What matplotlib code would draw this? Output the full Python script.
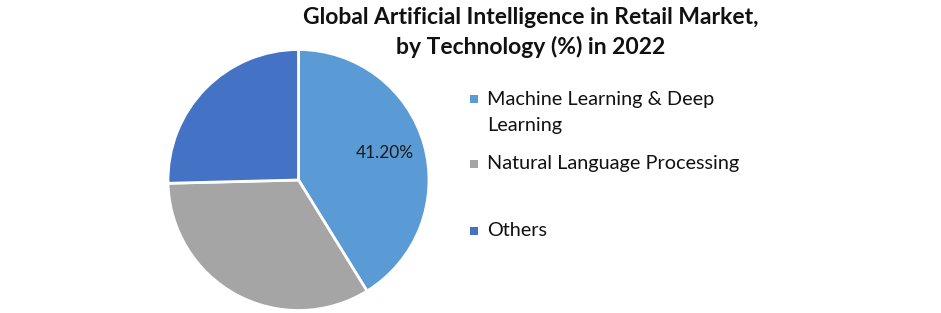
import matplotlib
matplotlib.use("Agg")
import matplotlib.pyplot as plt

categories = ["Machine Learning & Deep\nLearning", "Natural Language Processing", "Others"]
values = [41.2, 33.4, 25.4]
colors = ["#5B9BD5", "#A5A5A5", "#4472C4"]
title_lines = ["Global Artificial Intelligence in Retail Market,", "by Technology (%) in 2022"]

plt.rcParams['font.family'] = ['Lato', 'DejaVu Sans']

W, H = 941, 313
fig = plt.figure(figsize=(W / 100, H / 100), dpi=100)
fig.patch.set_facecolor("white")

cx, cy, r = 298.5, 180, 130.5
ax = fig.add_axes([(cx - r) / W, (H - cy - r) / H, 2 * r / W, 2 * r / H])
wedges, texts = ax.pie(values, colors=colors, startangle=90, counterclock=False,
                       wedgeprops=dict(edgecolor="white", linewidth=2), radius=1)
ax.set_xlim(-1, 1)
ax.set_ylim(-1, 1)
ax.set_aspect("auto")
ax.axis("off")

# label only the first slice
ax.text(0.66, 0.21, f"{values[0]:.2f}%", ha="center", va="center", fontsize=12.4, color="#1a1a1a")

for line, y in zip(title_lines, [18, 47]):
    fig.text(531 / W, 1 - y / H, line, ha="center", va="center", fontsize=16.5,
             fontweight="bold", color="#111111")

legend_y = [99, 164, 231]
for lab, col, y in zip(categories, colors, legend_y):
    fig.patches.append(plt.Rectangle((470 / W, 1 - (y + 4) / H), 8 / W, 8 / H,
                                     transform=fig.transFigure, facecolor=col, edgecolor="none"))
    for k, line in enumerate(lab.split("\n")):
        fig.text(487 / W, 1 - (y + 26 * k) / H, line, ha="left", va="center", fontsize=14.3,
                 color="#111111")

fig.savefig("out.png", dpi=100, facecolor="white")
